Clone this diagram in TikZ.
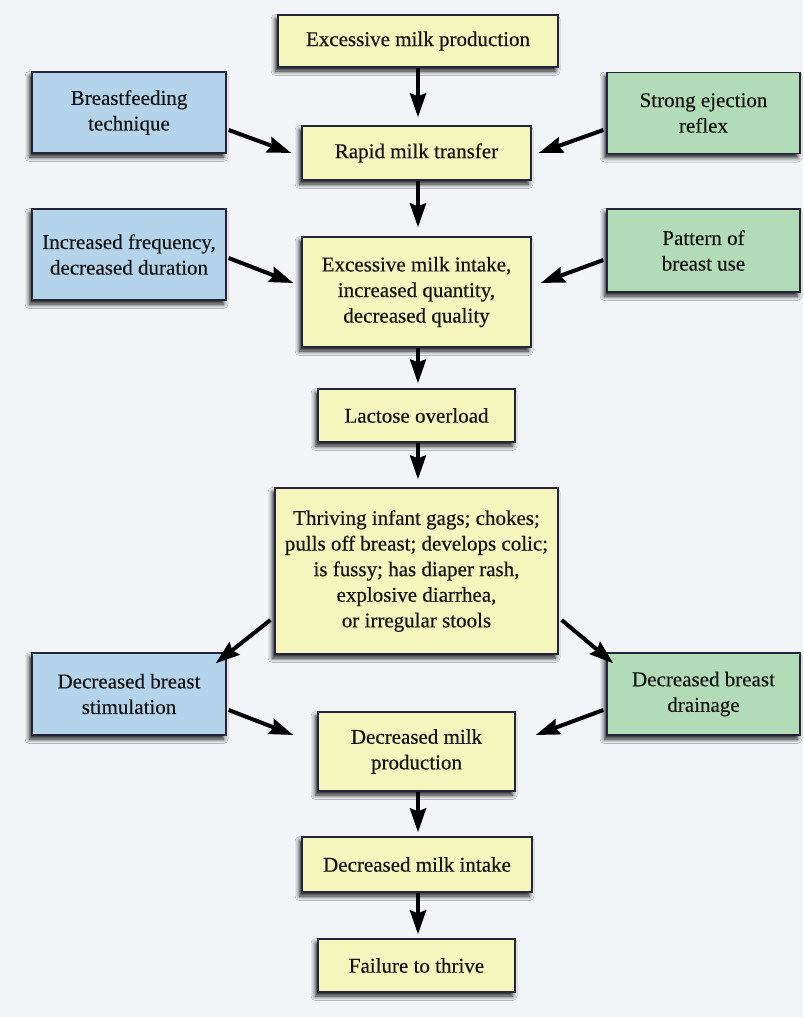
\documentclass[tikz,border=0pt]{standalone}
\usepackage{fontspec}
\setmainfont{Liberation Serif}[FakeBold=0.4]
\usetikzlibrary{arrows.meta,shadows.blur}
\definecolor{bgc}{HTML}{F2F4F7}
\definecolor{ylw}{HTML}{F5F5BE}
\definecolor{blu}{HTML}{B4D4EC}
\definecolor{grn}{HTML}{B2DCB8}
\definecolor{edge}{HTML}{23233A}
\definecolor{ink}{HTML}{141414}
\tikzset{
  box/.style={draw=edge, line width=1.3pt, inner sep=0pt, align=center, text=ink,
    font=\fontsize{21}{25.6}\selectfont,
    blur shadow={shadow xshift=-2.5pt, shadow yshift=-4pt, shadow blur radius=4.5pt, shadow opacity=90}},
  ybox/.style={box, fill=ylw},
  bbox/.style={box, fill=blu},
  gbox/.style={box, fill=grn},
  arr/.style={line width=4pt, draw=black, -{Stealth[length=24pt,width=16pt,inset=3pt]}}
}
\begin{document}
\begin{tikzpicture}[x=1pt,y=-1pt]
\fill[bgc] (0,0) rectangle (803,1017);
\useasboundingbox (0,0) rectangle (803,1017);
\node[ybox, minimum width=280pt, minimum height=52pt] (emp) at (418,41) {Excessive milk production};
\node[bbox, minimum width=194pt, minimum height=81pt] (bt) at (129,112.5) {Breastfeeding\\technique};
\node[gbox, minimum width=193pt, minimum height=81pt] (se) at (703.5,113) {Strong ejection\\reflex};
\node[ybox, minimum width=229pt, minimum height=54pt] (rmt) at (416.5,153) {Rapid milk transfer};
\node[bbox, minimum width=194pt, minimum height=91pt] (ifd) at (129,254.5) {Increased frequency,\\decreased duration};
\node[gbox, minimum width=193pt, minimum height=83pt] (pbu) at (703.5,250.5) {Pattern of\\breast use};
\node[ybox, minimum width=229pt, minimum height=110pt] (emi) at (416.5,292) {Excessive milk intake,\\increased quantity,\\decreased quality};
\node[ybox, minimum width=197pt, minimum height=53pt] (lo) at (416.5,415.5) {Lactose overload};
\node[ybox, minimum width=283pt, minimum height=166pt] (thr) at (416.5,571) {Thriving infant gags; chokes;\\pulls off breast; develops colic;\\is fussy; has diaper rash,\\explosive diarrhea,\\or irregular stools};
\node[bbox, minimum width=194pt, minimum height=82pt] (dbs) at (129,694) {Decreased breast\\stimulation};
\node[gbox, minimum width=193pt, minimum height=82pt] (dbd) at (703.5,694) {Decreased breast\\drainage};
\node[ybox, minimum width=197pt, minimum height=79pt] (dmp) at (416.5,751.5) {Decreased milk\\production};
\node[ybox, minimum width=230pt, minimum height=55pt] (dmi) at (417,864.5) {Decreased milk intake};
\node[ybox, minimum width=197pt, minimum height=53pt] (ftt) at (416.5,965.5) {Failure to thrive};
% vertical arrows
\draw[arr] (emp.south -| 418,0) -- ([yshift=8pt]rmt.north -| 418,0);
\draw[arr] (rmt.south -| 418,0) -- ([yshift=9pt]emi.north -| 418,0);
\draw[arr] (emi.south -| 418,0) -- ([yshift=5pt]lo.north -| 418,0);
\draw[arr] (lo.south -| 418,0) -- ([yshift=8pt]thr.north -| 418,0);
\draw[arr] (dmp.south -| 418,0) -- ([yshift=4pt]dmi.north -| 418,0);
\draw[arr] (dmi.south -| 418,0) -- ([yshift=4pt]ftt.north -| 418,0);
% side arrows
\draw[arr] ([xshift=2pt,yshift=-17.5pt]bt.east) -- ([xshift=-10pt]rmt.west);
\draw[arr] ([xshift=-3pt,yshift=-17pt]se.west) -- ([xshift=7pt]rmt.east);
\draw[arr] ([xshift=2pt,yshift=-3.5pt]ifd.east) -- ([xshift=-8pt,yshift=9pt]emi.west);
\draw[arr] ([xshift=-3pt,yshift=-9.5pt]pbu.west) -- ([xshift=9pt,yshift=9pt]emi.east);
\draw[arr] ([xshift=-4pt,yshift=-49pt]thr.west) -- ([xshift=-11pt,yshift=-11pt]dbs.north east);
\draw[arr] ([xshift=3pt,yshift=-49pt]thr.east) -- ([xshift=7pt,yshift=-11pt]dbd.north west);
\draw[arr] ([xshift=2pt,yshift=-16pt]dbs.east) -- ([xshift=-24pt,yshift=16.5pt]dmp.west);
\draw[arr] ([xshift=-3pt,yshift=-16pt]dbd.west) -- ([xshift=20pt,yshift=16.5pt]dmp.east);
\end{tikzpicture}
\end{document}
